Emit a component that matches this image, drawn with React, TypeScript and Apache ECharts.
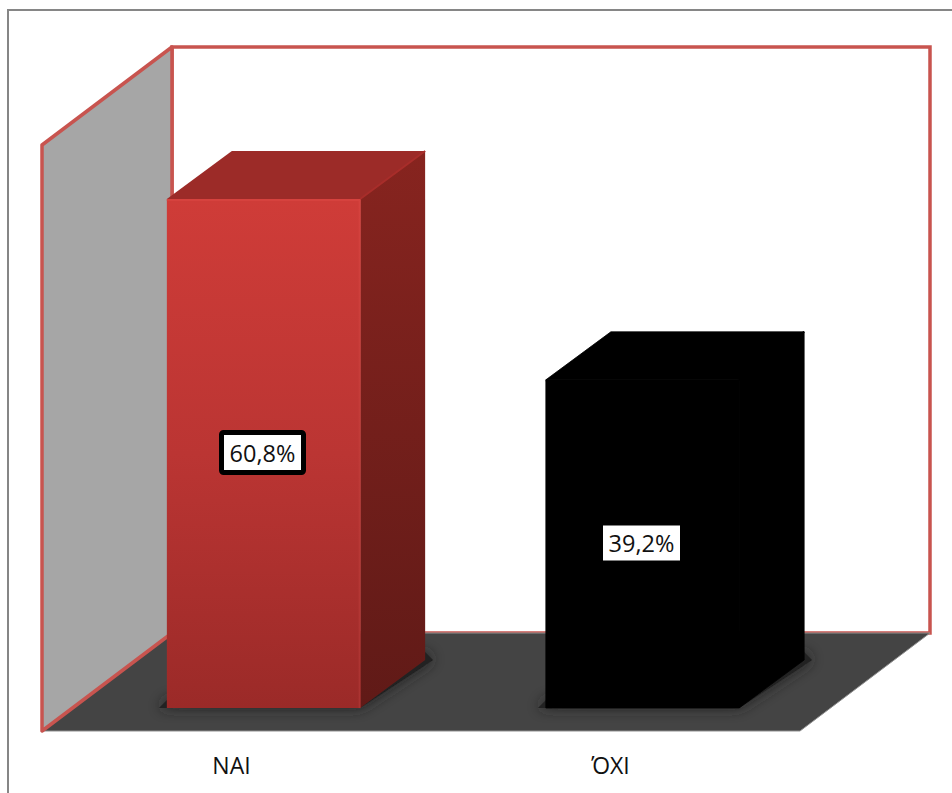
import React, { useEffect, useRef } from "react";
import * as echarts from "echarts";

const categories = ["ΝΑΙ", "ΌΧΙ"];
const shares = [60.8, 39.2];
const axisMax = 70;

const FONT = "'Open Sans', 'Noto Sans', sans-serif";
const WALL_RED = "#c8544f";
const DEPTH = { x: 130, y: -98 };
const BAR_PLANE = { x: 32, y: -23 };
const BAR_DEPTH = { x: 65, y: -48 };
const BAR_RATIO = 0.51;

const vGrad = (...colors: string[]) =>
  new echarts.graphic.LinearGradient(
    0,
    0,
    0,
    1,
    colors.map((color, i) => ({ offset: i / (colors.length - 1), color }))
  );

const barFaces = [
  {
    front: vGrad("#cf3c38", "#bb3533", "#9b2a28"),
    top: "#9c2b28",
    side: vGrad("#87241f", "#601a17"),
    edge: vGrad("#d6423e", "#aa3331"),
    ridge: "#a82d2a",
    outline: "none",
  },
  { front: "#000000", top: "#000000", side: "#000000", edge: "#000000", ridge: "#000000", outline: "#000000" },
];
const labelBoxes = [
  { borderWidth: 5, w: 87, h: 45 },
  { borderWidth: 0, w: 77, h: 35 },
];

// Side wall, back wall and floor of the 3D chamber, taken from the grid rectangle.
function renderChamber(params: any) {
  const { x, y, width, height } = params.coordSys;
  const bottom = y + height;
  const poly = (points: number[][], style: any) => ({ type: "polygon", shape: { points }, style });
  return {
    type: "group",
    children: [
      poly(
        [[x + DEPTH.x, y + DEPTH.y], [x + width + DEPTH.x, y + DEPTH.y], [x + width + DEPTH.x, bottom + DEPTH.y], [x + DEPTH.x, bottom + DEPTH.y]],
        { fill: "#ffffff", stroke: WALL_RED, lineWidth: 3.5, lineJoin: "miter" }
      ),
      poly(
        [[x, bottom], [x + DEPTH.x, bottom + DEPTH.y], [x + width + DEPTH.x, bottom + DEPTH.y], [x + width, bottom]],
        { fill: "#444444", stroke: "#8f8f8f", lineWidth: 1 }
      ),
      poly(
        [[x, y], [x + DEPTH.x, y + DEPTH.y], [x + DEPTH.x, bottom + DEPTH.y], [x, bottom]],
        { fill: "#a6a6a6", stroke: WALL_RED, lineWidth: 3.5, lineJoin: "round" }
      ),
    ],
  };
}

// One extruded bar: soft floor shadow, top, side and front faces, then the value label.
function renderBar(params: any, api: any) {
  const idx = api.value(0);
  const base = api.coord([idx, 0]);
  const tip = api.coord([idx, api.value(1)]);
  const w = api.size([1, 0])[0] * BAR_RATIO;
  const left = base[0] + BAR_PLANE.x - w / 2;
  const right = left + w;
  const low = base[1] + BAR_PLANE.y;
  const high = tip[1] + BAR_PLANE.y;
  const dx = BAR_DEPTH.x;
  const dy = BAR_DEPTH.y;
  const faces = barFaces[idx];
  const box = labelBoxes[idx];
  const cx = (left + right) / 2 - 1;
  const cy = (low + high) / 2 - 1;
  const poly = (points: number[][], style: any) => ({
    type: "polygon",
    shape: { points },
    style: { stroke: faces.outline, lineWidth: 0.8, lineJoin: "round", ...style },
  });
  return {
    type: "group",
    children: [
      {
        type: "polygon",
        shape: { points: [[left - 8, low], [right, low], [right + dx + 8, low + dy], [right + dx, low + dy - 8], [left, low - 8]] },
        style: { fill: "#202020", shadowBlur: 14, shadowColor: "#202020" },
      },
      poly([[left, high], [left + dx, high + dy], [right + dx, high + dy], [right, high]], { fill: faces.top }),
      poly([[right, high], [right + dx, high + dy], [right + dx, low + dy], [right, low]], { fill: faces.side }),
      poly([[left, high], [right, high], [right, low], [left, low]], { fill: faces.front }),
      {
        type: "rect",
        shape: { x: left, y: high, width: w, height: 2 },
        style: { fill: faces.ridge === "#000000" ? "#000000" : "#d6423e" },
      },
      {
        type: "rect",
        shape: { x: right - 1.5, y: high, width: 2, height: low - high },
        style: { fill: faces.edge },
      },
      {
        type: "line",
        shape: { x1: right, y1: high, x2: right + dx, y2: high + dy },
        style: { stroke: faces.ridge, lineWidth: 2 },
      },
      {
        type: "rect",
        shape: {
          x: cx - box.w / 2 + box.borderWidth / 2,
          y: cy - box.h / 2 + box.borderWidth / 2,
          width: box.w - box.borderWidth,
          height: box.h - box.borderWidth,
          r: box.borderWidth ? 2 : 0,
        },
        style: { fill: "#ffffff", stroke: box.borderWidth ? "#000000" : "none", lineWidth: box.borderWidth },
      },
      {
        type: "text",
        x: cx,
        y: cy,
        style: {
          text: `${api.value(1).toFixed(1).replace(".", ",")}%`,
          fill: "#111111",
          font: `23.5px ${FONT}`,
          align: "center",
          verticalAlign: "middle",
        },
      },
    ],
  };
}

export default function App() {
  const ref = useRef<HTMLDivElement>(null);
  useEffect(() => {
    const chart = echarts.init(ref.current!, undefined, { renderer: "svg" });
    chart.setOption({
      animation: false,
      backgroundColor: "#ffffff",
      grid: { left: 42, top: 145, width: 758, height: 586 },
      xAxis: {
        type: "category",
        data: categories,
        axisLine: { show: false },
        axisTick: { show: false },
        splitLine: { show: false },
        axisLabel: { margin: 22, color: "#111111", fontSize: 23, fontFamily: FONT },
      },
      yAxis: { type: "value", min: 0, max: axisMax, show: false },
      graphic: [
        {
          type: "polyline",
          shape: { points: [[8, 793], [8, 10], [952, 10]] },
          style: { stroke: "#868686", lineWidth: 2, fill: "none" },
        },
      ],
      series: [
        { type: "custom", z: 1, clip: false, silent: true, data: [[0]], renderItem: renderChamber },
        {
          type: "custom",
          z: 2,
          clip: false,
          silent: true,
          data: shares.map((v, i) => [i, v]),
          encode: { x: 0, y: 1 },
          renderItem: renderBar,
        },
      ],
    });
    return () => chart.dispose();
  }, []);
  return <div ref={ref} style={{ position: "fixed", left: 0, top: 0, width: 952, height: 793 }} />;
}
